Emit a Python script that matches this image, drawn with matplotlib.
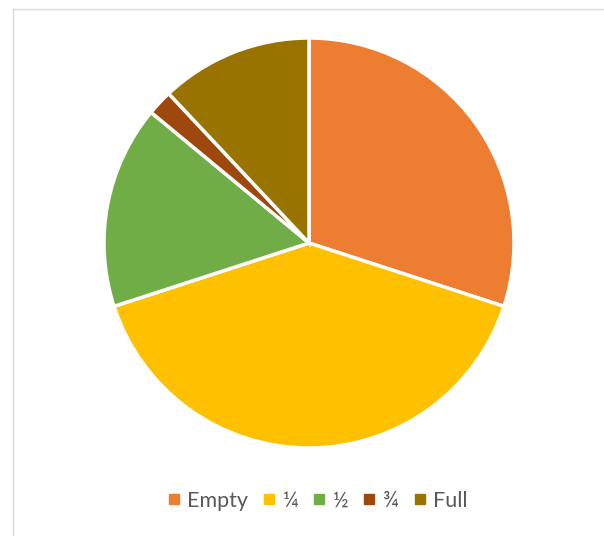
import matplotlib
matplotlib.use("Agg")
import matplotlib.pyplot as plt
from matplotlib.lines import Line2D

categories = ["Empty", "¼", "½", "¾", "Full"]
values = [30, 40, 16, 2, 12]
colors = ["#ED7D31", "#FFC000", "#70AD47", "#9E480E", "#997300"]

W, H = 604, 536
fig = plt.figure(figsize=(W / 100, H / 100), dpi=100)
fig.patch.set_facecolor("white")

cx, cy, r = 309, 243, 205
ax = fig.add_axes([(cx - r) / W, (H - cy - r) / H, 2 * r / W, 2 * r / H])
ax.pie(values, colors=colors, startangle=90, counterclock=False,
       wedgeprops=dict(edgecolor="white", linewidth=2.5))
ax.set_aspect("auto")
ax.set_xlim(-1, 1)
ax.set_ylim(-1, 1)
ax.axis("off")

# frame lines (top and left)
fig.add_artist(Line2D([13 / W, 1], [1 - 9 / H, 1 - 9 / H], transform=fig.transFigure,
                      color="#d9d9d9", lw=1))
fig.add_artist(Line2D([13 / W, 13 / W], [0, 1 - 9 / H], transform=fig.transFigure,
                      color="#d9d9d9", lw=1))

handles = [Line2D([], [], marker="s", linestyle="none", markersize=7,
                  markerfacecolor=c, markeredgecolor=c) for c in colors]
fig.legend(handles, categories, loc="center", bbox_to_anchor=(315 / W, 1 - 501 / H),
           ncol=5, frameon=False, labelcolor="#595959",
           handletextpad=0.1, columnspacing=0.5, handlelength=1.0,
           prop={"family": ["Lato", "DejaVu Sans"], "size": 15.5})

fig.savefig("out.png", dpi=100, facecolor="white")
